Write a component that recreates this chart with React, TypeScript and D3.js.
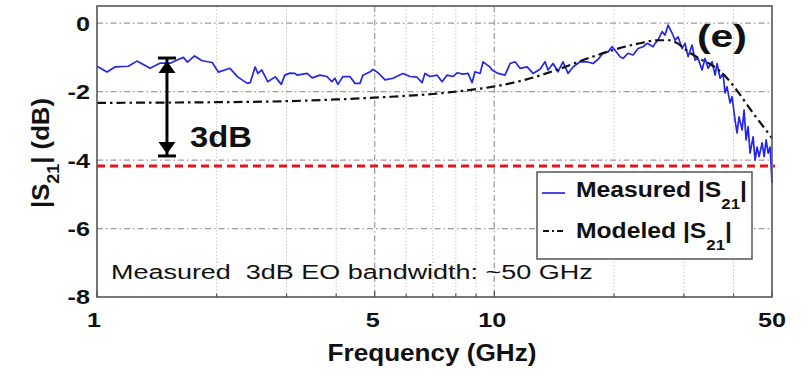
import React, { useEffect, useRef } from "react";
import * as d3 from "d3";

// ---------- data ----------
const measuredFreq = [
  1.0, 1.06, 1.11, 1.2, 1.26, 1.36, 1.44, 1.53, 1.59, 1.65, 1.69, 1.76, 1.84, 1.95, 2.02, 2.16, 2.26, 2.39, 2.43,
  2.5, 2.54, 2.6, 2.69, 2.81, 2.91, 2.97, 3.06, 3.15, 3.19, 3.38, 3.48, 3.64, 3.79, 3.9, 3.97, 4.04, 4.16, 4.33,
  4.46, 4.59, 4.67, 4.87, 4.95, 5.1, 5.31, 5.56, 5.89, 6.14, 6.39, 6.58, 6.69, 6.89, 7.18, 7.39, 7.6, 7.87, 8.06,
  8.34, 8.59, 8.79, 8.94, 9.21, 9.37, 9.59, 9.75, 9.87, 10.22, 10.64, 10.96, 11.28, 11.61, 12.09, 12.52, 13.03,
  13.42, 13.65, 14.06, 14.47, 14.89, 15.33, 15.78, 16.44, 17.12, 17.72, 18.24, 18.78, 19.33, 19.79, 20.13, 20.73,
  21.09, 21.71, 22.35, 23.01, 23.68, 24.24, 24.66, 25.09, 25.39, 25.83, 26.44, 26.9, 27.38, 28.02, 28.51, 29.01,
  29.69, 30.21, 30.74, 31.46, 32.01, 32.58, 33.34, 33.92, 34.52, 35.33, 35.95, 36.37, 37.01, 37.65, 38.09, 38.53,
  39.21, 39.67, 40.36, 40.84, 41.31, 42.04, 42.53, 43.03, 43.53, 44.04, 44.81, 45.34, 45.86, 46.4, 47.21, 47.78,
  48.33, 48.89, 49.46, 50.0,
];
const measuredDb = [
  -1.26, -1.43, -1.28, -1.26, -1.11, -1.32, -1.17, -1.17, -1.08, -1.0, -1.14, -0.96, -1.1, -1.15, -1.43, -1.32,
  -1.57, -1.76, -1.74, -1.28, -1.47, -1.37, -1.71, -1.57, -1.79, -1.52, -1.46, -1.47, -1.52, -1.47, -1.6, -1.52,
  -1.56, -1.71, -1.61, -1.79, -1.56, -1.56, -1.76, -1.76, -1.52, -1.42, -1.35, -1.45, -1.66, -1.61, -1.47, -1.56,
  -1.58, -1.74, -1.47, -1.56, -1.52, -1.71, -1.52, -1.56, -1.45, -1.49, -1.47, -1.74, -1.42, -1.47, -1.13, -1.22,
  -1.28, -1.37, -1.47, -1.52, -1.18, -1.13, -1.32, -1.28, -1.47, -1.35, -1.13, -1.37, -1.18, -1.42, -1.13, -1.47,
  -1.28, -1.13, -1.13, -1.18, -1.06, -0.88, -0.84, -0.69, -0.79, -0.98, -1.03, -0.88, -0.93, -0.74, -0.69, -0.59,
  -0.64, -0.69, -0.59, -0.5, -0.25, -0.35, -0.06, -0.29, -0.5, -0.4, -0.74, -0.59, -0.98, -0.64, -1.08, -1.03,
  -1.37, -1.03, -1.32, -1.13, -1.52, -1.18, -1.61, -1.47, -2.04, -1.86, -2.33, -2.15, -2.83, -3.21, -2.74, -3.12,
  -2.54, -3.41, -3.02, -3.8, -3.32, -4.0, -3.62, -3.9, -3.5, -3.9, -3.41, -3.8, -3.62, -4.67,
];
const modeledFreq = [1, 1.5, 2, 3, 4, 5.5, 7, 8, 10, 12, 14.5, 17, 20, 23, 26, 27.5, 29, 30.5, 33, 35, 38.5, 41, 44.8, 47.6, 50];
const modeledDb = [
  -2.33, -2.32, -2.31, -2.28, -2.23, -2.15, -2.07, -2.0, -1.85, -1.65, -1.35, -1.05, -0.78, -0.6, -0.5, -0.5, -0.6,
  -0.8, -1.05, -1.2, -1.6, -2.0, -2.63, -3.03, -3.36,
];
const xTickValues = [1, 5, 10, 50];
const xMinorValues = [2, 3, 4, 6, 7, 8, 9, 20, 30, 40];
const yTickValues = [0, -2, -4, -6, -8];
const yGridValues = [0, -2, -4, -6];
const thresholdDb = -4.17;
const arrowFreq = 1.5;
const arrowTopDb = -1.02;
const arrowBottomDb = -3.88;
const xDomain = [1, 50];
const yDomain = [-8, 0.5];

const W = 811;
const H = 381;
const FONT = "'Liberation Sans', Arial, Helvetica, sans-serif";

export default function App() {
  const ref = useRef<SVGSVGElement | null>(null);

  useEffect(() => {
    const svg = d3.select(ref.current);
    svg.selectAll("*").remove();

    const left = 97, right = 772, top = 6, bottom = 297;
    const x = d3.scaleLog().domain(xDomain).range([left, right]);
    const y = d3.scaleLinear().domain(yDomain).range([bottom, top]);

    svg.append("rect").attr("width", W).attr("height", H).attr("fill", "#fff");

    const fit = (t: any, target: number, ax: number, ay: number, rot = 0) => {
      const w = (t.node() as SVGTextElement).getBBox().width;
      const s = w > 0 ? target / w : 1;
      t.attr("transform", `translate(${ax},${ay}) rotate(${rot}) scale(${s},1) translate(${-ax},${-ay})`);
    };

    // grid
    const g = svg.append("g");
    g.selectAll("line.mg")
      .data(xMinorValues)
      .join("line")
      .attr("x1", (d) => x(d)).attr("x2", (d) => x(d))
      .attr("y1", top).attr("y2", bottom)
      .attr("stroke", "#c8c8c8").attr("stroke-width", 1).attr("stroke-dasharray", "1.5,2");
    g.selectAll("line.xg")
      .data(xTickValues.filter((d) => d > 1 && d < 50))
      .join("line")
      .attr("x1", (d) => x(d)).attr("x2", (d) => x(d))
      .attr("y1", top).attr("y2", bottom)
      .attr("stroke", "#9a9a9a").attr("stroke-width", 1.2).attr("stroke-dasharray", "6,3,1.5,3");
    svg.append("g").selectAll("line")
      .data(yGridValues)
      .join("line")
      .attr("x1", left).attr("x2", right)
      .attr("y1", (d) => y(d)).attr("y2", (d) => y(d))
      .attr("stroke", "#9a9a9a").attr("stroke-width", 1.3).attr("stroke-dasharray", "6,3,1.5,3");

    // threshold
    svg.append("line")
      .attr("x1", left).attr("x2", right + 3)
      .attr("y1", y(thresholdDb)).attr("y2", y(thresholdDb))
      .attr("stroke", "#e8141c").attr("stroke-width", 3).attr("stroke-dasharray", "8,5");

    const modeled = modeledFreq.map((f, i) => [f, modeledDb[i]] as [number, number]);
    const measured = measuredFreq.map((f, i) => [f, measuredDb[i]] as [number, number]);
    const lineGen = d3.line<[number, number]>().x((d) => x(d[0])).y((d) => y(d[1]));
    const smooth = d3.line<[number, number]>().x((d) => x(d[0])).y((d) => y(d[1])).curve(d3.curveMonotoneX);

    svg.append("path")
      .attr("d", lineGen(measured))
      .attr("fill", "none").attr("stroke", "#2626e8").attr("stroke-width", 1.7).attr("stroke-linejoin", "round");
    svg.append("path")
      .attr("d", smooth(modeled))
      .attr("fill", "none").attr("stroke", "#111").attr("stroke-width", 2.2).attr("stroke-dasharray", "9,4,2.5,4");

    // axes box
    svg.append("rect")
      .attr("x", left).attr("y", top).attr("width", right - left).attr("height", bottom - top)
      .attr("fill", "none").attr("stroke", "#555").attr("stroke-width", 1.6);

    // ticks
    svg.append("g").selectAll("line")
      .data(xMinorValues)
      .join("line")
      .attr("x1", (d) => x(d)).attr("x2", (d) => x(d))
      .attr("y1", bottom).attr("y2", bottom - 3.5)
      .attr("stroke", "#555").attr("stroke-width", 1.2);
    svg.append("g").selectAll("line")
      .data(xTickValues)
      .join("line")
      .attr("x1", (d) => x(d)).attr("x2", (d) => x(d))
      .attr("y1", bottom).attr("y2", bottom - 6)
      .attr("stroke", "#555").attr("stroke-width", 1.2);

    // tick labels
    yTickValues.forEach((v) => {
      const t = svg.append("text")
        .attr("x", 90).attr("y", y(v) + 7.5)
        .attr("text-anchor", "end").attr("font-family", FONT).attr("font-weight", "bold")
        .attr("font-size", 21).attr("fill", "#111")
        .text(String(v));
      t.attr("transform", `translate(90,0) scale(1.2,1) translate(-90,0)`);
    });
    xTickValues.forEach((v) => {
      const cx = x(v) - (v === 1 ? 3 : v === 5 || v === 10 ? 2 : 0);
      const t = svg.append("text")
        .attr("x", cx).attr("y", 327)
        .attr("text-anchor", "middle").attr("font-family", FONT).attr("font-weight", "bold")
        .attr("font-size", 21).attr("fill", "#111")
        .text(String(v));
      t.attr("transform", `translate(${cx},0) scale(1.2,1) translate(${-cx},0)`);
    });

    // axis titles
    const xt = svg.append("text")
      .attr("x", 432).attr("y", 361).attr("text-anchor", "middle")
      .attr("font-family", FONT).attr("font-weight", "bold").attr("font-size", 23).attr("fill", "#111")
      .text("Frequency (GHz)");
    fit(xt, 209, 432, 361);

    const yt = svg.append("text")
      .attr("x", 153).attr("y", 49).attr("text-anchor", "middle")
      .attr("font-family", FONT).attr("font-weight", "bold").attr("font-size", 23).attr("fill", "#111");
    yt.append("tspan").text("|S");
    yt.append("tspan").attr("font-size", 16).attr("dy", 10).text("21");
    yt.append("tspan").attr("dy", -10).text("| (dB)");
    {
      const w = (yt.node() as SVGTextElement).getBBox().width;
      const s = 110 / w;
      yt.attr("transform", `translate(49,153) rotate(-90) scale(${s},1) translate(-153,-49)`);
    }

    // annotation
    const ann = svg.append("text")
      .attr("x", 111).attr("y", 279)
      .attr("font-family", FONT).attr("font-size", 19.5).attr("fill", "#111")
      .style("white-space", "pre")
      .text("Measured  3dB EO bandwidth: ~50 GHz");
    fit(ann, 482, 111, 279);

    const pe = svg.append("text")
      .attr("x", 722).attr("y", 47).attr("text-anchor", "middle")
      .attr("font-family", FONT).attr("font-weight", "bold").attr("font-size", 32).attr("fill", "#111")
      .text("(e)");
    fit(pe, 50, 722, 47);

    // 3dB arrow
    const ax = x(arrowFreq);
    const yT = y(arrowTopDb);
    const yB = y(arrowBottomDb);
    svg.append("line").attr("x1", ax).attr("x2", ax).attr("y1", yT).attr("y2", yB)
      .attr("stroke", "#000").attr("stroke-width", 3);
    [yT, yB].forEach((yy) => {
      svg.append("line").attr("x1", ax - 9).attr("x2", ax + 9).attr("y1", yy).attr("y2", yy)
        .attr("stroke", "#000").attr("stroke-width", 3);
    });
    svg.append("path")
      .attr("d", `M${ax},${yT + 3} L${ax - 8.5},${yT + 15} L${ax + 8.5},${yT + 15} Z`)
      .attr("fill", "#000");
    svg.append("path")
      .attr("d", `M${ax},${yB - 2} L${ax - 8.5},${yB - 14} L${ax + 8.5},${yB - 14} Z`)
      .attr("fill", "#000");
    const t3 = svg.append("text")
      .attr("x", 190).attr("y", 147)
      .attr("font-family", FONT).attr("font-weight", "bold").attr("font-size", 29).attr("fill", "#111")
      .text("3dB");
    fit(t3, 62, 190, 147);

    // legend
    svg.append("rect")
      .attr("x", 537).attr("y", 172).attr("width", 215).attr("height", 87)
      .attr("fill", "#fff").attr("stroke", "#555").attr("stroke-width", 1.5);
    svg.append("line").attr("x1", 542).attr("x2", 565).attr("y1", 193).attr("y2", 193)
      .attr("stroke", "#2626e8").attr("stroke-width", 1.7);
    svg.append("line").attr("x1", 543).attr("x2", 566).attr("y1", 231).attr("y2", 231)
      .attr("stroke", "#111").attr("stroke-width", 2.2).attr("stroke-dasharray", "6,3,2,3");
    const legendItem = (label: string, yy: number, width: number) => {
      const t = svg.append("text")
        .attr("x", 576).attr("y", yy)
        .attr("font-family", FONT).attr("font-weight", "bold").attr("font-size", 22).attr("fill", "#111");
      t.append("tspan").text(label + " |S");
      t.append("tspan").attr("font-size", 15).attr("dy", 12).text("21");
      t.append("tspan").attr("dy", -12).text("|");
      fit(t, width, 576, yy);
    };
    legendItem("Measured", 197, 171);
    legendItem("Modeled", 238, 156);
  }, []);

  return (
    <svg
      ref={ref}
      width={W}
      height={H}
      style={{ position: "absolute", left: 0, top: 0, display: "block", background: "#fff" }}
    />
  );
}
